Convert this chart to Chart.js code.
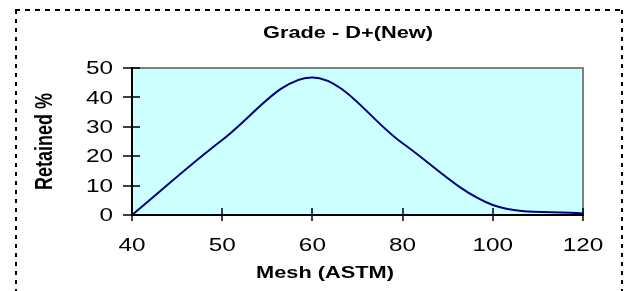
<!DOCTYPE html>
<html>
<head>
<meta charset="utf-8">
<script src="https://cdn.jsdelivr.net/npm/chart.js@4/dist/chart.umd.min.js"></script>
<style>
  html, body { margin: 0; padding: 0; background: #ffffff; }
  #wrap { position: relative; width: 628px; height: 291px; }
</style>
</head>
<body>
<div id="wrap"><canvas id="c" width="628" height="291"></canvas></div>
<script>
const chartTitle = 'Grade - D+(New)';
const xAxisTitle = 'Mesh (ASTM)';
const yAxisTitle = 'Retained %';
const meshLabels = ['40', '50', '60', '80', '100', '120'];
const retained = [0, 25.5, 46.8, 24.4, 3.4, 0.5];
const yMin = 0, yMax = 50, yStep = 10;

const FONT = '"Liberation Sans", Arial, sans-serif';
const SX = 1.28; // horizontal text stretch seen in the reference

function stretchText(ctx, text, x, y, font, align, sx, rot) {
  ctx.save();
  ctx.translate(x, y);
  ctx.scale(sx, 1);
  if (rot) ctx.rotate(rot);
  ctx.font = font;
  ctx.fillStyle = '#000000';
  ctx.textAlign = align;
  ctx.textBaseline = 'middle';
  ctx.fillText(text, 0, 0);
  ctx.restore();
}

const decor = {
  id: 'decor',
  beforeDraw(chart) {
    const ctx = chart.ctx;
    const a = chart.chartArea;
    ctx.save();
    ctx.strokeStyle = '#000000';
    ctx.lineWidth = 2;
    ctx.setLineDash([5, 5]);
    ctx.beginPath();
    ctx.moveTo(15, 10); ctx.lineTo(622, 10);
    ctx.stroke();
    ctx.setLineDash([4, 5]);
    ctx.beginPath();
    ctx.moveTo(16, 10); ctx.lineTo(16, 300);
    ctx.moveTo(622, 10); ctx.lineTo(622, 300);
    ctx.stroke();
    ctx.setLineDash([]);
    ctx.fillStyle = '#CCFFFF';
    ctx.fillRect(a.left, a.top, a.right - a.left, a.bottom - a.top);
    ctx.strokeStyle = '#808080';
    ctx.lineWidth = 2;
    ctx.beginPath();
    ctx.moveTo(a.left, a.top); ctx.lineTo(a.right, a.top); ctx.lineTo(a.right, a.bottom);
    ctx.stroke();
    ctx.restore();
  },
  afterDatasetsDraw(chart) {
    const ctx = chart.ctx;
    const a = chart.chartArea;
    const xs = chart.scales.x, ys = chart.scales.y;
    ctx.save();
    ctx.strokeStyle = '#000000';
    ctx.lineWidth = 1.5;
    ctx.beginPath();
    ys.ticks.forEach((t, i) => {
      const y = Math.round(ys.getPixelForTick(i));
      ctx.moveTo(a.left - 9, y); ctx.lineTo(a.left + 8, y);
    });
    xs.ticks.forEach((t, i) => {
      const x = Math.round(xs.getPixelForTick(i));
      ctx.moveTo(x, a.bottom - 7); ctx.lineTo(x, a.bottom + 6);
    });
    ctx.stroke();
    ctx.restore();
    // tick labels from the scales
    const tickFont = '19px ' + FONT;
    ys.ticks.forEach((t, i) => {
      stretchText(ctx, String(t.value), a.left - 19, ys.getPixelForTick(i) + 1, tickFont, 'right', SX);
    });
    xs.ticks.forEach((t, i) => {
      stretchText(ctx, xs.getLabelForValue(t.value), xs.getPixelForTick(i), 246, tickFont, 'center', SX);
    });
    // titles
    stretchText(ctx, chartTitle, 348, 33, 'bold 17px ' + FONT, 'center', SX);
    stretchText(ctx, xAxisTitle, 325, 273, 'bold 17px ' + FONT, 'center', SX);
    stretchText(ctx, yAxisTitle, 46, (a.top + a.bottom) / 2, 'bold 18px ' + FONT, 'center', SX, -Math.PI / 2);
  }
};

new Chart(document.getElementById('c'), {
  type: 'line',
  data: {
    labels: meshLabels,
    datasets: [{
      data: retained,
      borderColor: '#000080',
      borderWidth: 2,
      pointRadius: 0,
      tension: 0.35,
      fill: false
    }]
  },
  options: {
    responsive: false,
    animation: false,
    devicePixelRatio: 1,
    layout: { padding: { left: 20, right: 45, top: 68, bottom: 0 } },
    plugins: { legend: { display: false }, tooltip: { enabled: false }, title: { display: false } },
    scales: {
      x: {
        type: 'category',
        offset: false,
        afterFit(s) { s.height = 76; },
        grid: { display: false, drawTicks: false, tickLength: 0 },
        border: { display: true, color: '#000000', width: 2 },
        ticks: { display: false, autoSkip: false, maxRotation: 0 },
        title: { display: false, text: xAxisTitle }
      },
      y: {
        min: yMin, max: yMax,
        afterFit(s) { s.width = 112; },
        grid: { display: false, drawTicks: false, tickLength: 0 },
        border: { display: true, color: '#000000', width: 2 },
        ticks: { display: false, stepSize: yStep },
        title: { display: false, text: yAxisTitle }
      }
    }
  },
  plugins: [decor]
});
</script>
</body>
</html>
